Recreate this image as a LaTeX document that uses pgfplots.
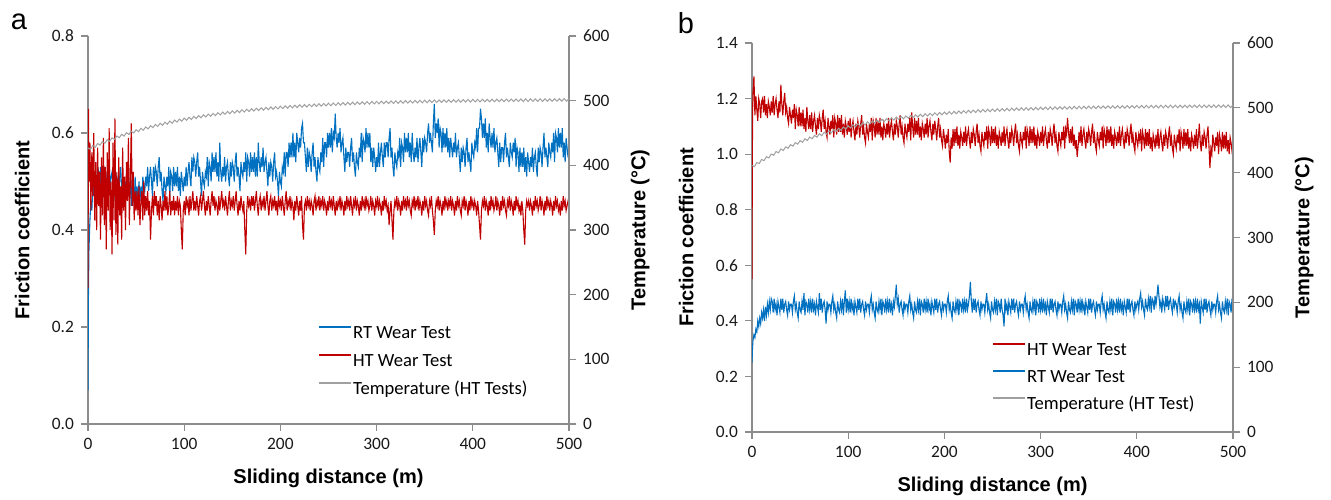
\documentclass[border=0pt]{standalone}
\usepackage{pgfplots}
\pgfplotsset{compat=1.18}
\usepackage{fontspec}
\setmainfont{Carlito}
\newfontfamily\arial{Liberation Sans}

\definecolor{rtblue}{HTML}{0070C0}
\definecolor{htred}{HTML}{C00000}
\definecolor{tgrey}{HTML}{A0A0A0}
\definecolor{axgrey}{HTML}{8C8C8C}

\newcommand\ticksfont{\fontsize{8.7}{10}\selectfont}
\newcommand\labfont{\arial\bfseries\fontsize{10}{12}\selectfont}
\newcommand\legfont{\fontsize{9.3}{11}\selectfont}

\pgfplotsset{
  panel/.style={
    scale only axis, width=240.5pt,
    xmin=0, xmax=500, ymin=0,
    no markers,
    tick align=outside, major tick length=3.5pt,
    tick style={axgrey, line width=0.6pt},
    axis line style={-, axgrey, line width=0.6pt},
    tick label style={font=\ticksfont, text=black!90},
    /pgf/number format/assume math mode=true,
  },
  leftax/.style={panel,
    axis y line*=left, axis x line*=bottom,
    xtick={0,100,200,300,400,500},
    yticklabel style={/pgf/number format/.cd, fixed, fixed zerofill, precision=1},
    xlabel={Sliding distance (m)}, ylabel={Friction coefficient},
    every axis y label/.style={at={(axis description cs:-0.137,0.5)}, rotate=90, anchor=center, font=\labfont},
    every axis x label/.style={at={(axis description cs:0.5,-0.14)}, anchor=center, font=\labfont},
    legend cell align=left,
    legend image code/.code={\draw[##1, line width=0.9pt] (0pt,3pt) -- (16pt,3pt);},
  },
  rightax/.style={panel,
    axis y line*=right, axis x line=none,
    ymax=600, ytick={0,100,200,300,400,500,600},
    ylabel={Temperature (°C)},
    every axis y label/.style={at={(axis description cs:1.148,0.5)}, rotate=90, anchor=center, font=\labfont},
  },
}

\begin{document}
\begin{tikzpicture}
\path[use as bounding box] (0,0) rectangle (665.5pt,249.5pt);

% ---------------- panel a ----------------
\node[font=\arial\fontsize{14.5}{16}\selectfont, anchor=center] at (9.5pt,238.5pt) {a};
\begin{axis}[leftax, at={(44pt,37.5pt)}, anchor=south west, height=194pt,
  ymax=0.8, ytick={0,0.2,0.4,0.6,0.8},
  legend style={draw=none, fill=none, inner sep=0pt, font=\legfont,
    at={(axis description cs:0.478,0.162)}, anchor=west, row sep=4pt,
    nodes={inner sep=0.5pt, text height=7pt, text depth=2pt},
    /tikz/every even column/.append style={column sep=2pt}}]
\addplot[rtblue, line width=0.55pt] coordinates {
(0,0.07)(0.5,0.28)(1,0.36)(2,0.42)(3,0.46)(4,0.44)(5,0.49)(6,0.47)(7,0.52)(8,0.46)(9,0.50)(10,0.53)
(11,0.52)(12,0.49)(13,0.53)(14,0.48)(15,0.51)(16,0.47)(17,0.53)(18,0.51)(19,0.49)(20,0.52)
(21,0.50)(22,0.54)(23,0.49)(24,0.51)(25,0.52)(26,0.49)(27,0.46)(28,0.51)(29,0.48)(30,0.51)
(31,0.50)(32,0.47)(33,0.51)(34,0.53)(35,0.48)(36,0.50)(37,0.47)(38,0.45)(39,0.50)(40,0.48)
(41,0.47)(42,0.50)(43,0.47)(44,0.51)(45,0.45)(46,0.50)(47,0.49)(48,0.45)(49,0.51)(50,0.46)
(51,0.49)(52,0.46)(53,0.50)(54,0.46)(55,0.49)(56,0.46)(57,0.51)(58,0.49)(59,0.48)(60,0.51)
(61,0.49)(62,0.53)(63,0.48)(64,0.51)(65,0.53)(66,0.50)(67,0.47)(68,0.53)(69,0.50)(70,0.53)
(71,0.52)(72,0.49)(73,0.53)(74,0.55)(75,0.50)(76,0.52)(77,0.48)(78,0.46)(79,0.51)(80,0.49)
(81,0.48)(82,0.51)(83,0.49)(84,0.53)(85,0.47)(86,0.52)(87,0.51)(88,0.48)(89,0.53)(90,0.49)
(91,0.52)(92,0.49)(93,0.53)(94,0.48)(95,0.51)(96,0.47)(97,0.52)(98,0.50)(99,0.48)(100,0.51)
(101,0.49)(102,0.53)(103,0.49)(104,0.52)(105,0.54)(106,0.51)(107,0.49)(108,0.55)(109,0.52)(110,0.55)
(111,0.54)(112,0.51)(113,0.54)(114,0.56)(115,0.51)(116,0.53)(117,0.50)(118,0.47)(119,0.52)(120,0.50)
(121,0.49)(122,0.52)(123,0.51)(124,0.55)(125,0.49)(126,0.54)(127,0.53)(128,0.50)(129,0.56)(130,0.52)
(131,0.55)(132,0.52)(133,0.56)(134,0.51)(135,0.54)(136,0.50)(137,0.58)(138,0.52)(139,0.50)(140,0.53)
(141,0.51)(142,0.55)(143,0.50)(144,0.53)(145,0.54)(146,0.51)(147,0.49)(148,0.54)(149,0.51)(150,0.54)
(151,0.53)(152,0.50)(153,0.54)(154,0.56)(155,0.51)(156,0.53)(157,0.51)(158,0.48)(159,0.54)(160,0.52)
(161,0.51)(162,0.54)(163,0.52)(164,0.56)(165,0.50)(166,0.55)(167,0.54)(168,0.51)(169,0.56)(170,0.52)
(171,0.55)(172,0.52)(173,0.56)(174,0.51)(175,0.55)(176,0.51)(177,0.58)(178,0.54)(179,0.52)(180,0.55)
(181,0.53)(182,0.57)(183,0.52)(184,0.54)(185,0.55)(186,0.52)(187,0.49)(188,0.54)(189,0.51)(190,0.54)
(191,0.53)(192,0.50)(193,0.54)(194,0.56)(195,0.51)(196,0.52)(197,0.50)(198,0.47)(199,0.52)(200,0.50)
(201,0.49)(202,0.53)(203,0.52)(204,0.56)(205,0.51)(206,0.56)(207,0.56)(208,0.53)(209,0.58)(210,0.55)
(211,0.58)(212,0.55)(213,0.60)(214,0.55)(215,0.58)(216,0.54)(217,0.60)(218,0.58)(219,0.56)(220,0.59)
(221,0.57)(222,0.61)(223,0.62)(224,0.58)(225,0.58)(226,0.55)(227,0.52)(228,0.57)(229,0.53)(230,0.56)
(231,0.55)(232,0.52)(233,0.56)(234,0.58)(235,0.53)(236,0.55)(237,0.52)(238,0.50)(239,0.55)(240,0.53)
(241,0.52)(242,0.56)(243,0.54)(244,0.59)(245,0.53)(246,0.58)(247,0.58)(248,0.55)(249,0.60)(250,0.57)
(251,0.60)(252,0.57)(253,0.61)(254,0.56)(255,0.60)(256,0.59)(257,0.64)(258,0.59)(259,0.57)(260,0.60)
(261,0.58)(262,0.61)(263,0.56)(264,0.58)(265,0.59)(266,0.55)(267,0.52)(268,0.57)(269,0.54)(270,0.56)
(271,0.56)(272,0.53)(273,0.57)(274,0.59)(275,0.54)(276,0.56)(277,0.53)(278,0.51)(279,0.56)(280,0.54)
(281,0.53)(282,0.57)(283,0.55)(284,0.60)(285,0.54)(286,0.59)(287,0.58)(288,0.56)(289,0.61)(290,0.57)
(291,0.60)(292,0.57)(293,0.60)(294,0.54)(295,0.57)(296,0.53)(297,0.57)(298,0.55)(299,0.52)(300,0.55)
(301,0.53)(302,0.58)(303,0.53)(304,0.56)(305,0.58)(306,0.55)(307,0.53)(308,0.58)(309,0.55)(310,0.58)
(311,0.58)(312,0.55)(313,0.59)(314,0.61)(315,0.55)(316,0.57)(317,0.53)(318,0.51)(319,0.56)(320,0.54)
(321,0.53)(322,0.56)(323,0.55)(324,0.59)(325,0.53)(326,0.58)(327,0.57)(328,0.54)(329,0.60)(330,0.56)
(331,0.59)(332,0.56)(333,0.60)(334,0.55)(335,0.58)(336,0.54)(337,0.60)(338,0.56)(339,0.54)(340,0.57)
(341,0.55)(342,0.59)(343,0.54)(344,0.57)(345,0.59)(346,0.56)(347,0.53)(348,0.59)(349,0.56)(350,0.59)
(351,0.58)(352,0.56)(353,0.60)(354,0.62)(355,0.58)(356,0.60)(357,0.58)(358,0.56)(359,0.62)(360,0.66)
(361,0.59)(362,0.62)(363,0.60)(364,0.63)(365,0.57)(366,0.61)(367,0.60)(368,0.56)(369,0.61)(370,0.57)
(371,0.60)(372,0.57)(373,0.61)(374,0.56)(375,0.59)(376,0.55)(377,0.59)(378,0.57)(379,0.55)(380,0.58)
(381,0.56)(382,0.60)(383,0.55)(384,0.57)(385,0.58)(386,0.55)(387,0.52)(388,0.57)(389,0.54)(390,0.57)
(391,0.56)(392,0.53)(393,0.57)(394,0.59)(395,0.54)(396,0.56)(397,0.54)(398,0.52)(399,0.58)(400,0.56)
(401,0.55)(402,0.58)(403,0.57)(404,0.61)(405,0.56)(406,0.61)(407,0.61)(408,0.65)(409,0.63)(410,0.59)
(411,0.62)(412,0.59)(413,0.63)(414,0.57)(415,0.60)(416,0.56)(417,0.62)(418,0.59)(419,0.57)(420,0.60)
(421,0.57)(422,0.61)(423,0.56)(424,0.58)(425,0.59)(426,0.56)(427,0.53)(428,0.58)(429,0.54)(430,0.57)
(431,0.57)(432,0.54)(433,0.58)(434,0.60)(435,0.55)(436,0.57)(437,0.55)(438,0.53)(439,0.58)(440,0.56)
(441,0.55)(442,0.58)(443,0.56)(444,0.59)(445,0.53)(446,0.57)(447,0.56)(448,0.52)(449,0.57)(450,0.53)
(451,0.56)(452,0.53)(453,0.57)(454,0.52)(455,0.55)(456,0.51)(457,0.56)(458,0.54)(459,0.52)(460,0.55)
(461,0.53)(462,0.57)(463,0.52)(464,0.55)(465,0.56)(466,0.53)(467,0.51)(468,0.57)(469,0.54)(470,0.57)
(471,0.56)(472,0.53)(473,0.57)(474,0.60)(475,0.55)(476,0.57)(477,0.55)(478,0.53)(479,0.58)(480,0.56)
(481,0.55)(482,0.58)(483,0.56)(484,0.60)(485,0.54)(486,0.60)(487,0.59)(488,0.56)(489,0.61)(490,0.57)
(491,0.60)(492,0.57)(493,0.61)(494,0.55)(495,0.58)(496,0.54)(497,0.59)(498,0.57)(499,0.55)(500,0.57)
};
\addlegendentry{RT Wear Test}
\addplot[htred, line width=0.55pt] coordinates {
(0,0.28)(0.5,0.65)(1,0.50)(2,0.58)(3,0.44)(4,0.56)(5,0.47)(6,0.60)(7,0.42)(8,0.54)(9,0.40)(10,0.57)
(11,0.45)(12,0.52)(13,0.38)(14,0.55)(15,0.43)(16,0.59)(17,0.41)(18,0.53)(19,0.36)(20,0.56)
(21,0.44)(22,0.61)(23,0.40)(24,0.50)(25,0.35)(26,0.58)(27,0.42)(28,0.63)(29,0.39)(30,0.52)
(31,0.37)(32,0.55)(33,0.43)(34,0.49)(35,0.38)(36,0.57)(37,0.44)(38,0.51)(39,0.40)(40,0.54)
(41,0.46)(42,0.59)(43,0.41)(44,0.50)(45,0.62)(46,0.45)(47,0.52)(48,0.42)(49,0.48)(50,0.44)
(51,0.48)(52,0.43)(53,0.49)(54,0.41)(55,0.46)(56,0.48)(57,0.42)(58,0.50)(59,0.43)(60,0.47)
(61,0.44)(62,0.48)(63,0.43)(64,0.46)(65,0.38)(66,0.44)(67,0.47)(68,0.43)(69,0.48)(70,0.45)
(71,0.47)(72,0.43)(73,0.46)(74,0.42)(75,0.47)(76,0.45)(77,0.42)(78,0.46)(79,0.44)(80,0.48)
(81,0.44)(82,0.47)(83,0.43)(84,0.45)(85,0.48)(86,0.43)(87,0.46)(88,0.44)(89,0.47)(90,0.43)
(91,0.46)(92,0.44)(93,0.47)(94,0.43)(95,0.46)(96,0.45)(97,0.40)(98,0.36)(99,0.44)(100,0.46)
(101,0.43)(102,0.47)(103,0.45)(104,0.46)(105,0.43)(106,0.47)(107,0.44)(108,0.46)(109,0.48)(110,0.44)
(111,0.46)(112,0.44)(113,0.47)(114,0.45)(115,0.43)(116,0.46)(117,0.47)(118,0.44)(119,0.46)(120,0.48)
(121,0.45)(122,0.43)(123,0.46)(124,0.44)(125,0.47)(126,0.45)(127,0.43)(128,0.46)(129,0.48)(130,0.45)
(131,0.47)(132,0.44)(133,0.46)(134,0.45)(135,0.43)(136,0.47)(137,0.44)(138,0.46)(139,0.48)(140,0.45)
(141,0.46)(142,0.44)(143,0.47)(144,0.45)(145,0.43)(146,0.46)(147,0.48)(148,0.44)(149,0.46)(150,0.45)
(151,0.47)(152,0.44)(153,0.46)(154,0.48)(155,0.45)(156,0.43)(157,0.46)(158,0.44)(159,0.47)(160,0.45)
(161,0.44)(162,0.46)(163,0.40)(164,0.35)(165,0.44)(166,0.47)(167,0.45)(168,0.46)(169,0.44)(170,0.47)
(171,0.45)(172,0.47)(173,0.44)(174,0.46)(175,0.48)(176,0.45)(177,0.43)(178,0.46)(179,0.47)(180,0.44)
(181,0.46)(182,0.45)(183,0.47)(184,0.44)(185,0.46)(186,0.48)(187,0.45)(188,0.43)(189,0.46)(190,0.47)
(191,0.44)(192,0.46)(193,0.45)(194,0.47)(195,0.44)(196,0.46)(197,0.43)(198,0.47)(199,0.45)(200,0.46)
(201,0.44)(202,0.47)(203,0.45)(204,0.43)(205,0.46)(206,0.48)(207,0.44)(208,0.46)(209,0.45)(210,0.47)
(211,0.44)(212,0.46)(213,0.45)(214,0.42)(215,0.46)(216,0.44)(217,0.47)(218,0.45)(219,0.43)(220,0.46)
(221,0.44)(222,0.47)(223,0.41)(224,0.38)(225,0.45)(226,0.46)(227,0.44)(228,0.47)(229,0.45)(230,0.46)
(231,0.44)(232,0.46)(233,0.45)(234,0.43)(235,0.46)(236,0.47)(237,0.44)(238,0.46)(239,0.45)(240,0.47)
(241,0.44)(242,0.46)(243,0.45)(244,0.47)(245,0.44)(246,0.46)(247,0.45)(248,0.43)(249,0.46)(250,0.44)
(251,0.47)(252,0.45)(253,0.46)(254,0.44)(255,0.47)(256,0.45)(257,0.43)(258,0.46)(259,0.44)(260,0.46)
(261,0.45)(262,0.47)(263,0.44)(264,0.46)(265,0.45)(266,0.43)(267,0.46)(268,0.44)(269,0.47)(270,0.45)
(271,0.46)(272,0.44)(273,0.47)(274,0.45)(275,0.43)(276,0.46)(277,0.45)(278,0.47)(279,0.44)(280,0.46)
(281,0.45)(282,0.43)(283,0.46)(284,0.44)(285,0.47)(286,0.45)(287,0.46)(288,0.44)(289,0.47)(290,0.45)
(291,0.46)(292,0.44)(293,0.45)(294,0.47)(295,0.44)(296,0.46)(297,0.45)(298,0.43)(299,0.46)(300,0.45)
(301,0.47)(302,0.44)(303,0.46)(304,0.45)(305,0.43)(306,0.46)(307,0.44)(308,0.47)(309,0.45)(310,0.46)
(311,0.44)(312,0.45)(313,0.41)(314,0.44)(315,0.46)(316,0.42)(317,0.38)(318,0.44)(319,0.46)(320,0.45)
(321,0.47)(322,0.44)(323,0.46)(324,0.45)(325,0.43)(326,0.46)(327,0.44)(328,0.47)(329,0.45)(330,0.46)
(331,0.44)(332,0.47)(333,0.45)(334,0.46)(335,0.44)(336,0.43)(337,0.46)(338,0.45)(339,0.47)(340,0.44)
(341,0.46)(342,0.45)(343,0.47)(344,0.44)(345,0.46)(346,0.45)(347,0.43)(348,0.46)(349,0.44)(350,0.47)
(351,0.45)(352,0.46)(353,0.44)(354,0.43)(355,0.46)(356,0.45)(357,0.47)(358,0.44)(359,0.42)(360,0.39)
(361,0.44)(362,0.46)(363,0.45)(364,0.47)(365,0.44)(366,0.46)(367,0.45)(368,0.43)(369,0.46)(370,0.44)
(371,0.47)(372,0.45)(373,0.46)(374,0.44)(375,0.46)(376,0.45)(377,0.47)(378,0.44)(379,0.46)(380,0.45)
(381,0.43)(382,0.46)(383,0.44)(384,0.47)(385,0.45)(386,0.46)(387,0.44)(388,0.43)(389,0.46)(390,0.45)
(391,0.47)(392,0.44)(393,0.46)(394,0.45)(395,0.43)(396,0.46)(397,0.44)(398,0.47)(399,0.45)(400,0.46)
(401,0.44)(402,0.46)(403,0.45)(404,0.43)(405,0.46)(406,0.44)(407,0.41)(408,0.38)(409,0.44)(410,0.46)
(411,0.45)(412,0.47)(413,0.44)(414,0.46)(415,0.45)(416,0.43)(417,0.46)(418,0.44)(419,0.47)(420,0.45)
(421,0.46)(422,0.44)(423,0.45)(424,0.47)(425,0.44)(426,0.46)(427,0.45)(428,0.43)(429,0.46)(430,0.44)
(431,0.47)(432,0.45)(433,0.46)(434,0.44)(435,0.43)(436,0.46)(437,0.45)(438,0.47)(439,0.44)(440,0.46)
(441,0.45)(442,0.43)(443,0.46)(444,0.44)(445,0.47)(446,0.45)(447,0.46)(448,0.44)(449,0.45)(450,0.43)
(451,0.46)(452,0.44)(453,0.40)(454,0.37)(455,0.44)(456,0.46)(457,0.45)(458,0.46)(459,0.44)(460,0.46)
(461,0.45)(462,0.43)(463,0.46)(464,0.44)(465,0.47)(466,0.45)(467,0.46)(468,0.44)(469,0.45)(470,0.47)
(471,0.44)(472,0.46)(473,0.45)(474,0.43)(475,0.46)(476,0.44)(477,0.47)(478,0.45)(479,0.46)(480,0.44)
(481,0.46)(482,0.45)(483,0.43)(484,0.46)(485,0.44)(486,0.47)(487,0.45)(488,0.46)(489,0.44)(490,0.45)
(491,0.43)(492,0.46)(493,0.44)(494,0.47)(495,0.45)(496,0.46)(497,0.44)(498,0.45)(499,0.46)(500,0.45)
};
\addlegendentry{HT Wear Test}
\addlegendimage{tgrey}
\addlegendentry{Temperature (HT Tests)}
\end{axis}
\begin{axis}[rightax, at={(44pt,37.5pt)}, anchor=south west, height=194pt]
\addplot[tgrey, line width=0.5pt] coordinates {
(0,427.0)(2.5,424.7)(5,430.4)(7.5,428.0)(10,433.7)(12.5,431.2)(15,436.8)(17.5,434.3)
(20,439.8)(22.5,437.2)(25,442.6)(27.5,440.0)(30,445.4)(32.5,442.7)(35,448.0)(37.5,445.2)
(40,450.5)(42.5,447.7)(45,452.8)(47.5,450.0)(50,455.1)(52.5,452.2)(55,457.3)(57.5,454.3)
(60,459.4)(62.5,456.4)(65,461.4)(67.5,458.3)(70,463.3)(72.5,460.2)(75,465.1)(77.5,461.9)
(80,466.8)(82.5,463.6)(85,468.4)(87.5,465.2)(90,470.0)(92.5,466.8)(95,471.5)(97.5,468.3)
(100,473.0)(102.5,469.7)(105,474.4)(107.5,471.0)(110,475.7)(112.5,472.3)(115,476.9)(117.5,473.5)
(120,478.1)(122.5,474.7)(125,479.3)(127.5,475.8)(130,480.4)(132.5,476.9)(135,481.4)(137.5,477.9)
(140,482.4)(142.5,478.9)(145,483.4)(147.5,479.8)(150,484.3)(152.5,480.7)(155,485.1)(157.5,481.6)
(160,486.0)(162.5,482.4)(165,486.8)(167.5,483.2)(170,487.6)(172.5,484.0)(175,488.3)(177.5,484.7)
(180,489.0)(182.5,485.3)(185,489.7)(187.5,486.0)(190,490.3)(192.5,486.6)(195,490.9)(197.5,487.2)
(200,491.5)(202.5,487.8)(205,492.0)(207.5,488.3)(210,492.6)(212.5,488.8)(215,493.1)(217.5,489.3)
(220,493.6)(222.5,489.8)(225,494.0)(227.5,490.2)(230,494.4)(232.5,490.7)(235,494.9)(237.5,491.1)
(240,495.3)(242.5,491.5)(245,495.7)(247.5,491.9)(250,496.1)(252.5,492.2)(255,496.4)(257.5,492.6)
(260,496.8)(262.5,492.9)(265,497.1)(267.5,493.2)(270,497.4)(272.5,493.5)(275,497.7)(277.5,493.8)
(280,498.0)(282.5,494.1)(285,498.3)(287.5,494.4)(290,498.5)(292.5,494.6)(295,498.8)(297.5,494.9)
(300,499.0)(302.5,495.1)(305,499.2)(307.5,495.3)(310,499.4)(312.5,495.5)(315,499.6)(317.5,495.7)
(320,499.8)(322.5,495.9)(325,500.0)(327.5,496.0)(330,500.1)(332.5,496.2)(335,500.3)(337.5,496.4)
(340,500.5)(342.5,496.6)(345,500.6)(347.5,496.7)(350,500.8)(352.5,496.8)(355,500.9)(357.5,497.0)
(360,501.1)(362.5,497.2)(365,501.2)(367.5,497.3)(370,501.3)(372.5,497.4)(375,501.4)(377.5,497.5)
(380,501.6)(382.5,497.6)(385,501.7)(387.5,497.7)(390,501.8)(392.5,497.8)(395,501.9)(397.5,497.9)
(400,502.0)(402.5,498.0)(405,502.1)(407.5,498.1)(410,502.2)(412.5,498.2)(415,502.2)(417.5,498.3)
(420,502.3)(422.5,498.3)(425,502.4)(427.5,498.4)(430,502.4)(432.5,498.5)(435,502.5)(437.5,498.5)
(440,502.6)(442.5,498.6)(445,502.6)(447.5,498.7)(450,502.7)(452.5,498.7)(455,502.8)(457.5,498.8)
(460,502.8)(462.5,498.8)(465,502.9)(467.5,498.9)(470,502.9)(472.5,498.9)(475,503.0)(477.5,499.0)
(480,503.0)(482.5,499.0)(485,503.1)(487.5,499.1)(490,503.1)(492.5,499.1)(495,503.2)(497.5,499.2)
(500,503.2)
};
\end{axis}

% ---------------- panel b ----------------
\node[font=\arial\fontsize{14.5}{16}\selectfont, anchor=center] at (343pt,238pt) {b};
\begin{axis}[leftax, at={(376pt,33.5pt)}, anchor=south west, height=194.5pt,
  ymax=1.4, ytick={0,0.2,0.4,0.6,0.8,1.0,1.2,1.4},
  legend style={draw=none, fill=none, inner sep=0pt, font=\legfont,
    at={(axis description cs:0.499,0.141)}, anchor=west, row sep=3.5pt,
    nodes={inner sep=0.5pt, text height=7pt, text depth=2pt},
    /tikz/every even column/.append style={column sep=2pt}}]
\addplot[htred, line width=0.55pt] coordinates {
(0,0.55)(0.3,0.95)(0.6,1.15)(1,1.22)(2,1.28)(3,1.14)(4,1.21)(5,1.16)(6,1.12)(7,1.20)(8,1.18)(9,1.13)(10,1.19)
(11,1.20)(12,1.15)(13,1.21)(14,1.14)(15,1.18)(16,1.13)(17,1.19)(18,1.17)(19,1.14)(20,1.19)
(21,1.15)(22,1.21)(23,1.14)(24,1.18)(25,1.20)(26,1.16)(27,1.13)(28,1.19)(29,1.15)(30,1.25)
(31,1.18)(32,1.14)(33,1.19)(34,1.22)(35,1.15)(36,1.17)(37,1.13)(38,1.11)(39,1.17)(40,1.14)
(41,1.11)(42,1.16)(43,1.13)(44,1.18)(45,1.09)(46,1.16)(47,1.14)(48,1.10)(49,1.17)(50,1.10)
(51,1.15)(52,1.10)(53,1.16)(54,1.09)(55,1.13)(56,1.08)(57,1.17)(58,1.12)(59,1.09)(60,1.14)
(61,1.09)(62,1.15)(63,1.08)(64,1.12)(65,1.14)(66,1.10)(67,1.07)(68,1.13)(69,1.09)(70,1.14)
(71,1.12)(72,1.08)(73,1.13)(74,1.16)(75,1.09)(76,1.12)(77,1.08)(78,1.06)(79,1.13)(80,1.10)
(81,1.07)(82,1.12)(83,1.09)(84,1.14)(85,1.06)(86,1.13)(87,1.11)(88,1.07)(89,1.14)(90,1.08)
(91,1.13)(92,1.08)(93,1.14)(94,1.07)(95,1.11)(96,1.06)(97,1.12)(98,1.10)(99,1.07)(100,1.12)
(101,1.08)(102,1.13)(103,1.06)(104,1.10)(105,1.12)(106,1.08)(107,1.05)(108,1.11)(109,1.07)(110,1.12)
(111,1.10)(112,1.06)(113,1.11)(114,1.14)(115,1.07)(116,1.10)(117,1.06)(118,1.04)(119,1.11)(120,1.08)
(121,1.06)(122,1.11)(123,1.08)(124,1.13)(125,1.05)(126,1.12)(127,1.10)(128,1.06)(129,1.13)(130,1.07)
(131,1.12)(132,1.07)(133,1.13)(134,1.06)(135,1.10)(136,1.05)(137,1.11)(138,1.09)(139,1.06)(140,1.11)
(141,1.07)(142,1.13)(143,1.06)(144,1.10)(145,1.12)(146,1.08)(147,1.05)(148,1.11)(149,1.07)(150,1.12)
(151,1.10)(152,1.06)(153,1.11)(154,1.14)(155,1.07)(156,1.10)(157,1.06)(158,1.04)(159,1.11)(160,1.08)
(161,1.06)(162,1.11)(163,1.08)(164,1.13)(165,1.05)(166,1.15)(167,1.10)(168,1.06)(169,1.13)(170,1.07)
(171,1.12)(172,1.07)(173,1.13)(174,1.06)(175,1.10)(176,1.05)(177,1.11)(178,1.09)(179,1.06)(180,1.11)
(181,1.07)(182,1.13)(183,1.06)(184,1.10)(185,1.12)(186,1.08)(187,1.05)(188,1.11)(189,1.07)(190,1.12)
(191,1.09)(192,1.05)(193,1.10)(194,1.13)(195,1.06)(196,1.09)(197,1.05)(198,1.03)(199,1.09)(200,1.06)
(201,1.02)(202,1.07)(203,1.04)(204,1.09)(205,1.01)(206,0.97)(207,1.06)(208,1.02)(209,1.09)(210,1.03)
(211,1.09)(212,1.04)(213,1.10)(214,1.03)(215,1.07)(216,1.02)(217,1.08)(218,1.06)(219,1.03)(220,1.08)
(221,1.04)(222,1.10)(223,1.03)(224,1.07)(225,1.09)(226,1.05)(227,1.02)(228,1.08)(229,1.04)(230,1.09)
(231,1.07)(232,1.03)(233,1.08)(234,1.11)(235,1.04)(236,1.07)(237,1.03)(238,1.01)(239,1.08)(240,1.05)
(241,1.03)(242,1.08)(243,1.05)(244,1.10)(245,1.02)(246,1.09)(247,1.07)(248,1.03)(249,1.10)(250,1.04)
(251,1.09)(252,1.04)(253,1.10)(254,1.03)(255,1.07)(256,1.02)(257,1.08)(258,1.06)(259,1.03)(260,1.08)
(261,1.04)(262,1.10)(263,1.03)(264,1.07)(265,1.09)(266,1.05)(267,1.02)(268,1.08)(269,1.04)(270,1.09)
(271,1.07)(272,1.03)(273,1.08)(274,1.11)(275,1.04)(276,1.07)(277,1.03)(278,1.01)(279,1.08)(280,1.05)
(281,1.03)(282,1.08)(283,1.05)(284,1.10)(285,1.02)(286,1.09)(287,1.07)(288,1.03)(289,1.10)(290,1.04)
(291,1.09)(292,1.04)(293,1.10)(294,1.03)(295,1.07)(296,1.02)(297,1.08)(298,1.06)(299,1.03)(300,1.08)
(301,1.04)(302,1.10)(303,1.03)(304,1.07)(305,1.09)(306,1.05)(307,1.02)(308,1.08)(309,1.04)(310,1.09)
(311,1.07)(312,1.03)(313,1.08)(314,1.11)(315,1.04)(316,1.07)(317,1.03)(318,1.01)(319,1.08)(320,1.05)
(321,1.03)(322,1.08)(323,1.05)(324,1.10)(325,1.02)(326,1.09)(327,1.07)(328,1.13)(329,1.08)(330,1.04)
(331,1.09)(332,1.04)(333,1.10)(334,1.03)(335,1.07)(336,1.02)(337,1.05)(338,0.99)(339,1.03)(340,1.08)
(341,1.04)(342,1.10)(343,1.03)(344,1.07)(345,1.09)(346,1.05)(347,1.02)(348,1.08)(349,1.04)(350,1.09)
(351,1.07)(352,1.03)(353,1.08)(354,1.11)(355,1.04)(356,1.07)(357,1.03)(358,1.01)(359,1.08)(360,1.05)
(361,1.03)(362,1.08)(363,1.05)(364,1.10)(365,1.02)(366,1.09)(367,1.07)(368,1.03)(369,1.10)(370,1.04)
(371,1.09)(372,1.04)(373,1.10)(374,1.03)(375,1.07)(376,1.02)(377,1.08)(378,1.06)(379,1.03)(380,1.08)
(381,1.04)(382,1.10)(383,1.03)(384,1.07)(385,1.09)(386,1.05)(387,1.02)(388,1.08)(389,1.04)(390,1.09)
(391,1.07)(392,1.03)(393,1.08)(394,1.11)(395,1.04)(396,1.07)(397,1.03)(398,1.01)(399,1.08)(400,1.05)
(401,1.03)(402,1.07)(403,1.05)(404,1.09)(405,1.01)(406,1.08)(407,1.06)(408,1.02)(409,1.09)(410,1.03)
(411,1.08)(412,1.03)(413,1.09)(414,1.02)(415,1.06)(416,1.01)(417,1.07)(418,1.05)(419,1.02)(420,1.07)
(421,1.03)(422,1.09)(423,1.02)(424,1.06)(425,1.08)(426,1.04)(427,1.01)(428,1.07)(429,1.03)(430,1.08)
(431,1.06)(432,1.02)(433,1.07)(434,1.10)(435,1.03)(436,1.06)(437,1.02)(438,1.00)(439,1.07)(440,1.04)
(441,1.02)(442,1.07)(443,1.04)(444,1.09)(445,1.01)(446,1.08)(447,1.06)(448,1.02)(449,1.09)(450,1.03)
(451,1.08)(452,1.03)(453,1.09)(454,1.02)(455,1.06)(456,1.01)(457,1.07)(458,1.05)(459,1.02)(460,1.07)
(461,1.03)(462,1.09)(463,1.02)(464,1.06)(465,1.11)(466,1.04)(467,1.01)(468,1.07)(469,1.03)(470,1.08)
(471,1.06)(472,1.02)(473,1.07)(474,1.10)(475,1.03)(476,0.95)(477,1.02)(478,1.00)(479,1.07)(480,1.04)
(481,1.01)(482,1.06)(483,1.03)(484,1.08)(485,1.00)(486,1.07)(487,1.05)(488,1.01)(489,1.08)(490,1.02)
(491,1.07)(492,1.02)(493,1.08)(494,1.01)(495,1.05)(496,1.00)(497,1.06)(498,1.04)(499,1.01)(500,1.03)
};
\addlegendentry{HT Wear Test}
\addplot[rtblue, line width=0.55pt] coordinates {
(0,0.25)(0.5,0.30)(1,0.33)(2,0.35)(3,0.34)(4,0.37)(5,0.36)(6,0.40)(7,0.38)(8,0.41)(9,0.39)(10,0.43)
(11,0.41)(12,0.44)(13,0.40)(14,0.45)(15,0.42)(16,0.46)(17,0.43)(18,0.47)(19,0.44)(20,0.48)
(21,0.47)(22,0.43)(23,0.48)(24,0.44)(25,0.46)(26,0.42)(27,0.47)(28,0.45)(29,0.43)(30,0.48)
(31,0.44)(32,0.48)(33,0.43)(34,0.46)(35,0.47)(36,0.44)(37,0.42)(38,0.47)(39,0.44)(40,0.46)
(41,0.46)(42,0.43)(43,0.47)(44,0.49)(45,0.44)(46,0.46)(47,0.43)(48,0.41)(49,0.47)(50,0.44)
(51,0.43)(52,0.47)(53,0.44)(54,0.50)(55,0.42)(56,0.47)(57,0.46)(58,0.43)(59,0.48)(60,0.44)
(61,0.47)(62,0.43)(63,0.48)(64,0.44)(65,0.46)(66,0.42)(67,0.47)(68,0.45)(69,0.43)(70,0.50)
(71,0.44)(72,0.48)(73,0.43)(74,0.46)(75,0.47)(76,0.44)(77,0.39)(78,0.47)(79,0.44)(80,0.46)
(81,0.46)(82,0.43)(83,0.47)(84,0.49)(85,0.44)(86,0.46)(87,0.43)(88,0.41)(89,0.47)(90,0.44)
(91,0.43)(92,0.47)(93,0.44)(94,0.48)(95,0.42)(96,0.47)(97,0.51)(98,0.43)(99,0.48)(100,0.44)
(101,0.47)(102,0.43)(103,0.48)(104,0.44)(105,0.46)(106,0.42)(107,0.47)(108,0.45)(109,0.43)(110,0.48)
(111,0.44)(112,0.48)(113,0.43)(114,0.46)(115,0.47)(116,0.44)(117,0.42)(118,0.47)(119,0.44)(120,0.46)
(121,0.46)(122,0.43)(123,0.47)(124,0.49)(125,0.44)(126,0.46)(127,0.43)(128,0.41)(129,0.47)(130,0.44)
(131,0.43)(132,0.47)(133,0.44)(134,0.48)(135,0.42)(136,0.47)(137,0.46)(138,0.43)(139,0.48)(140,0.44)
(141,0.47)(142,0.43)(143,0.48)(144,0.44)(145,0.46)(146,0.42)(147,0.47)(148,0.45)(149,0.49)(150,0.53)
(151,0.46)(152,0.48)(153,0.43)(154,0.46)(155,0.47)(156,0.44)(157,0.42)(158,0.47)(159,0.44)(160,0.46)
(161,0.46)(162,0.43)(163,0.47)(164,0.49)(165,0.44)(166,0.46)(167,0.43)(168,0.41)(169,0.47)(170,0.44)
(171,0.43)(172,0.47)(173,0.44)(174,0.48)(175,0.42)(176,0.47)(177,0.46)(178,0.43)(179,0.48)(180,0.44)
(181,0.47)(182,0.43)(183,0.48)(184,0.44)(185,0.46)(186,0.42)(187,0.47)(188,0.45)(189,0.43)(190,0.48)
(191,0.44)(192,0.48)(193,0.43)(194,0.46)(195,0.47)(196,0.44)(197,0.42)(198,0.47)(199,0.44)(200,0.46)
(201,0.46)(202,0.43)(203,0.47)(204,0.49)(205,0.44)(206,0.46)(207,0.43)(208,0.41)(209,0.47)(210,0.44)
(211,0.43)(212,0.47)(213,0.44)(214,0.48)(215,0.42)(216,0.47)(217,0.46)(218,0.43)(219,0.48)(220,0.44)
(221,0.47)(222,0.43)(223,0.48)(224,0.44)(225,0.46)(226,0.49)(227,0.54)(228,0.47)(229,0.43)(230,0.48)
(231,0.44)(232,0.48)(233,0.43)(234,0.46)(235,0.47)(236,0.44)(237,0.42)(238,0.47)(239,0.44)(240,0.46)
(241,0.46)(242,0.43)(243,0.47)(244,0.50)(245,0.44)(246,0.46)(247,0.43)(248,0.41)(249,0.47)(250,0.44)
(251,0.43)(252,0.47)(253,0.44)(254,0.48)(255,0.42)(256,0.47)(257,0.46)(258,0.43)(259,0.48)(260,0.44)
(261,0.42)(262,0.38)(263,0.48)(264,0.44)(265,0.46)(266,0.42)(267,0.47)(268,0.45)(269,0.43)(270,0.48)
(271,0.44)(272,0.48)(273,0.43)(274,0.46)(275,0.47)(276,0.44)(277,0.42)(278,0.47)(279,0.44)(280,0.46)
(281,0.46)(282,0.43)(283,0.47)(284,0.49)(285,0.44)(286,0.46)(287,0.43)(288,0.41)(289,0.47)(290,0.44)
(291,0.43)(292,0.47)(293,0.44)(294,0.48)(295,0.42)(296,0.47)(297,0.46)(298,0.43)(299,0.48)(300,0.44)
(301,0.47)(302,0.43)(303,0.48)(304,0.44)(305,0.46)(306,0.42)(307,0.47)(308,0.45)(309,0.43)(310,0.48)
(311,0.44)(312,0.48)(313,0.43)(314,0.46)(315,0.47)(316,0.44)(317,0.42)(318,0.47)(319,0.44)(320,0.46)
(321,0.46)(322,0.43)(323,0.47)(324,0.49)(325,0.44)(326,0.46)(327,0.43)(328,0.41)(329,0.47)(330,0.44)
(331,0.43)(332,0.47)(333,0.44)(334,0.48)(335,0.42)(336,0.47)(337,0.46)(338,0.43)(339,0.48)(340,0.44)
(341,0.47)(342,0.43)(343,0.48)(344,0.44)(345,0.46)(346,0.42)(347,0.47)(348,0.45)(349,0.43)(350,0.48)
(351,0.44)(352,0.48)(353,0.43)(354,0.46)(355,0.47)(356,0.44)(357,0.42)(358,0.47)(359,0.44)(360,0.46)
(361,0.46)(362,0.43)(363,0.47)(364,0.49)(365,0.44)(366,0.46)(367,0.43)(368,0.41)(369,0.47)(370,0.44)
(371,0.43)(372,0.47)(373,0.44)(374,0.48)(375,0.42)(376,0.47)(377,0.46)(378,0.43)(379,0.48)(380,0.44)
(381,0.47)(382,0.43)(383,0.48)(384,0.44)(385,0.46)(386,0.42)(387,0.47)(388,0.45)(389,0.43)(390,0.48)
(391,0.44)(392,0.48)(393,0.43)(394,0.46)(395,0.47)(396,0.44)(397,0.42)(398,0.47)(399,0.44)(400,0.46)
(401,0.47)(402,0.44)(403,0.48)(404,0.50)(405,0.45)(406,0.47)(407,0.44)(408,0.42)(409,0.48)(410,0.45)
(411,0.44)(412,0.48)(413,0.45)(414,0.49)(415,0.43)(416,0.48)(417,0.47)(418,0.44)(419,0.49)(420,0.46)
(421,0.49)(422,0.53)(423,0.49)(424,0.45)(425,0.47)(426,0.43)(427,0.48)(428,0.46)(429,0.44)(430,0.49)
(431,0.45)(432,0.49)(433,0.44)(434,0.47)(435,0.48)(436,0.45)(437,0.43)(438,0.48)(439,0.45)(440,0.47)
(441,0.46)(442,0.43)(443,0.47)(444,0.49)(445,0.44)(446,0.46)(447,0.43)(448,0.41)(449,0.47)(450,0.44)
(451,0.43)(452,0.47)(453,0.44)(454,0.48)(455,0.42)(456,0.47)(457,0.46)(458,0.43)(459,0.48)(460,0.44)
(461,0.47)(462,0.43)(463,0.48)(464,0.44)(465,0.46)(466,0.39)(467,0.47)(468,0.45)(469,0.43)(470,0.48)
(471,0.44)(472,0.48)(473,0.43)(474,0.46)(475,0.47)(476,0.44)(477,0.42)(478,0.47)(479,0.44)(480,0.46)
(481,0.46)(482,0.43)(483,0.47)(484,0.49)(485,0.44)(486,0.46)(487,0.43)(488,0.41)(489,0.47)(490,0.44)
(491,0.43)(492,0.47)(493,0.44)(494,0.48)(495,0.42)(496,0.47)(497,0.46)(498,0.43)(499,0.48)(500,0.44)
};
\addlegendentry{RT Wear Test}
\addlegendimage{tgrey}
\addlegendentry{Temperature (HT Test)}
\end{axis}
\begin{axis}[rightax, at={(376pt,33.5pt)}, anchor=south west, height=194.5pt]
\addplot[tgrey, line width=0.5pt] coordinates {
(0,411.0)(2.5,409.4)(5,415.7)(7.5,414.1)(10,420.4)(12.5,418.5)(15,424.6)(17.5,422.8)
(20,428.9)(22.5,426.8)(25,432.7)(27.5,430.6)(30,436.5)(32.5,434.2)(35,439.9)(37.5,437.6)
(40,443.3)(42.5,440.9)(45,446.4)(47.5,444.0)(50,449.5)(52.5,446.9)(55,452.3)(57.5,449.6)
(60,455.0)(62.5,452.3)(65,457.5)(67.5,454.8)(70,460.0)(72.5,457.1)(75,462.3)(77.5,459.4)
(80,464.5)(82.5,461.5)(85,466.5)(87.5,463.5)(90,468.5)(92.5,465.4)(95,470.4)(97.5,467.3)
(100,472.2)(102.5,469.0)(105,473.9)(107.5,470.7)(110,475.5)(112.5,472.2)(115,477.0)(117.5,473.7)
(120,478.4)(122.5,475.1)(125,479.8)(127.5,476.4)(130,481.1)(132.5,477.7)(135,482.3)(137.5,478.9)
(140,483.5)(142.5,480.0)(145,484.6)(147.5,481.1)(150,485.6)(152.5,482.1)(155,486.6)(157.5,483.0)
(160,487.5)(162.5,484.0)(165,488.4)(167.5,484.9)(170,489.3)(172.5,485.7)(175,490.1)(177.5,486.5)
(180,490.9)(182.5,487.3)(185,491.6)(187.5,488.0)(190,492.3)(192.5,488.6)(195,492.9)(197.5,489.2)
(200,493.5)(202.5,489.8)(205,494.1)(207.5,490.3)(210,494.6)(212.5,490.9)(215,495.2)(217.5,491.4)
(220,495.7)(222.5,491.9)(225,496.2)(227.5,492.4)(230,496.6)(232.5,492.8)(235,497.1)(237.5,493.3)
(240,497.5)(242.5,493.7)(245,497.9)(247.5,494.0)(250,498.2)(252.5,494.4)(255,498.6)(257.5,494.7)
(260,498.9)(262.5,495.1)(265,499.2)(267.5,495.4)(270,499.5)(272.5,495.7)(275,499.8)(277.5,496.0)
(280,500.1)(282.5,496.2)(285,500.3)(287.5,496.4)(290,500.5)(292.5,496.7)(295,500.8)(297.5,496.9)
(300,501.0)(302.5,497.1)(305,501.2)(307.5,497.3)(310,501.4)(312.5,497.5)(315,501.6)(317.5,497.7)
(320,501.8)(322.5,497.9)(325,501.9)(327.5,498.0)(330,502.1)(332.5,498.2)(335,502.3)(337.5,498.3)
(340,502.4)(342.5,498.5)(345,502.5)(347.5,498.6)(350,502.7)(352.5,498.7)(355,502.8)(357.5,498.8)
(360,502.9)(362.5,499.0)(365,503.0)(367.5,499.1)(370,503.1)(372.5,499.2)(375,503.2)(377.5,499.3)
(380,503.3)(382.5,499.4)(385,503.4)(387.5,499.5)(390,503.5)(392.5,499.5)(395,503.6)(397.5,499.6)
(400,503.6)(402.5,499.7)(405,503.7)(407.5,499.7)(410,503.8)(412.5,499.8)(415,503.8)(417.5,499.9)
(420,503.9)(422.5,499.9)(425,504.0)(427.5,500.0)(430,504.0)(432.5,500.0)(435,504.1)(437.5,500.1)
(440,504.1)(442.5,500.1)(445,504.2)(447.5,500.2)(450,504.2)(452.5,500.2)(455,504.3)(457.5,500.3)
(460,504.3)(462.5,500.3)(465,504.4)(467.5,500.4)(470,504.4)(472.5,500.4)(475,504.4)(477.5,500.4)
(480,504.5)(482.5,500.5)(485,504.5)(487.5,500.5)(490,504.5)(492.5,500.5)(495,504.5)(497.5,500.5)
(500,504.5)
};
\end{axis}
\end{tikzpicture}
\end{document}
